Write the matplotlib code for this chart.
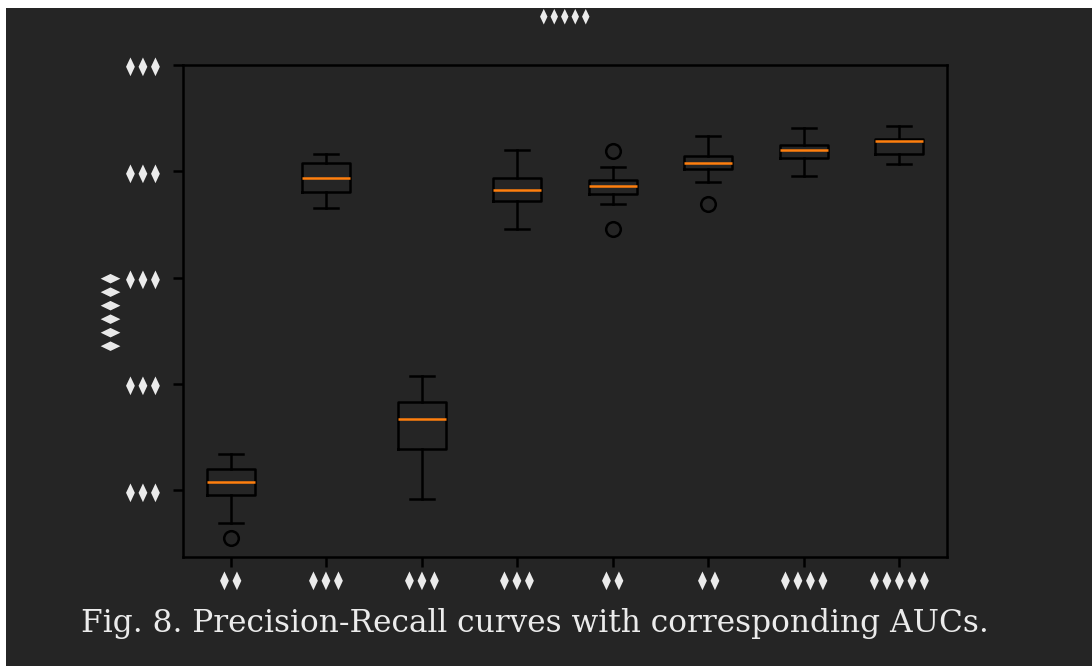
import matplotlib
matplotlib.use("Agg")
import matplotlib.pyplot as plt
from matplotlib.patches import Rectangle
from matplotlib import font_manager
from matplotlib.ft2font import FT2Font

# pick a narrow lozenge glyph if the font has it
_path = font_manager.findfont(font_manager.FontProperties(family="DejaVu Sans"))
_ft = FT2Font(_path)
D = "\u29eb" if _ft.get_char_index(0x29EB) else "\u2666"
SP = "\u2009" if _ft.get_char_index(0x2009) else ""


def lz(n):
    return SP.join([D] * n)


# ---- data ----
categories = [lz(2), lz(3), lz(3), lz(3), lz(2), lz(2), lz(4), lz(5)]
whislo = [0.469, 0.7655, 0.4915, 0.7455, 0.7696, 0.7903, 0.7960, 0.8066]
q1     = [0.4956, 0.7803, 0.5383, 0.7718, 0.7784, 0.8022, 0.8122, 0.8163]
med    = [0.5075, 0.7941, 0.5665, 0.7819, 0.7859, 0.8082, 0.8204, 0.8285]
q3     = [0.5197, 0.8082, 0.5828, 0.7937, 0.7918, 0.8144, 0.8247, 0.8308]
whishi = [0.5339, 0.8167, 0.6072, 0.8204, 0.8041, 0.8330, 0.8407, 0.8430]
fliers = [[0.4549], [], [], [], [0.8188, 0.7455], [0.7696], [], []]
yticks = [0.5, 0.6, 0.7, 0.8, 0.9]
ytick_labels = [lz(3)] * 5
title = lz(5)
ylabel = lz(6)
caption = "Fig. 8. Precision-Recall curves with corresponding AUCs."

BG = "#252525"
FG = "#ebebeb"
W, H = 1092, 666

fig = plt.figure(figsize=(W / 100, H / 100), dpi=100, facecolor=BG)
ax = fig.add_axes([183 / W, 1 - 557 / H, (947 - 183) / W, (557 - 65) / H])
ax.set_facecolor(BG)

stats = []
for i in range(len(categories)):
    stats.append(dict(whislo=whislo[i], q1=q1[i], med=med[i], q3=q3[i],
                      whishi=whishi[i], fliers=fliers[i], label=categories[i]))

lw = 1.8
ax.bxp(stats,
       boxprops=dict(color="black", linewidth=lw),
       whiskerprops=dict(color="black", linewidth=lw),
       capprops=dict(color="black", linewidth=lw),
       medianprops=dict(color="#ff7f0e", linewidth=lw),
       flierprops=dict(marker="o", markerfacecolor="none", markeredgecolor="black",
                       markersize=10.5, markeredgewidth=lw))

ax.set_xlim(0.5, 8.5)
ax.set_ylim(0.437, 0.9)
ax.set_yticks(yticks)
ax.set_yticklabels(ytick_labels)
for s in ax.spines.values():
    s.set_color("black")
    s.set_linewidth(lw)
ax.tick_params(axis="both", colors="black", length=7, width=lw, labelcolor=FG,
               labelsize=13)
ax.tick_params(axis="y", pad=10)
ax.tick_params(axis="x", pad=3)

ax.set_ylabel(ylabel, color=FG, fontsize=14)
ax.yaxis.set_label_coords((121 - 183) / 764, 0.5)
ax.set_title(title, color=FG, fontsize=11, pad=32)

cap = fig.text(535 / W, 1 - 632 / H, caption, color=FG, fontsize=22,
               family="DejaVu Serif", ha="center", va="baseline")
# fit caption width to the reference span (about 910 px)
r = fig.canvas.get_renderer()
wpx = cap.get_window_extent(r).width
cap.set_fontsize(22 * 910 / wpx)

# white margins along top and left edges
fig.add_artist(Rectangle((0, 1 - 8 / H), 1, 8 / H, transform=fig.transFigure,
                         facecolor="white", edgecolor="none", zorder=10))
fig.add_artist(Rectangle((0, 0), 6 / W, 1, transform=fig.transFigure,
                         facecolor="white", edgecolor="none", zorder=10))

fig.savefig("out.png", dpi=100, facecolor=BG)
